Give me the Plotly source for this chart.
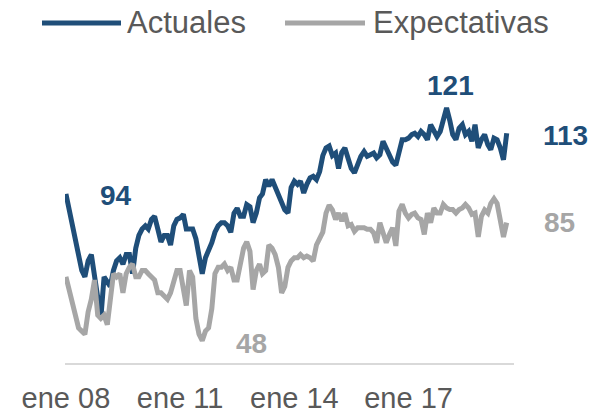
import pandas as pd
import plotly.graph_objects as go

start_month = "2008-01-01"

actuales = [
    94, 89, 84, 78, 74, 70, 68, 73, 75, 68, 60, 55,
    68, 66, 65, 70, 73, 74, 72, 75, 75, 69, 77, 81,
    83, 84, 83, 86, 87, 83, 79, 81, 81, 78, 84, 86,
    86.5, 87.6, 83, 83, 83, 80, 73.5, 69, 74, 76, 78.7, 82,
    84, 85, 85, 84, 82, 88, 89.5, 87, 87, 90.7, 90, 85,
    88, 92.8, 94, 98.5, 96.4, 98.5, 96, 93.3, 91.2, 89, 88, 96,
    98, 97, 98, 94.3, 97, 99, 99.5, 98.5, 101, 106, 108.4, 109,
    106, 106.8, 102, 107, 108.4, 105.3, 102, 100.6, 103.2, 105.8, 107.3, 105.8,
    106.3, 106.8, 105.3, 106.3, 110.5, 108.4, 105.8, 104, 103, 107.3, 111, 111,
    111.5, 112.6, 113, 112, 113.6, 112.6, 111, 115.7, 113.6, 112, 113.6, 117,
    121, 117, 112.6, 111, 114.6, 115.7, 112.6, 113.6, 110.5, 115.7, 108.4, 111,
    112.6, 109.4, 107.9, 111.5, 111, 108.4, 104.7, 113,
]

expectativas = [
    68, 64, 59, 55, 52, 51, 50, 57, 61, 67, 56, 55,
    56, 53, 60, 69, 68, 69, 63, 69, 71, 72, 68, 68,
    70, 70, 69, 68, 67, 63, 63, 62, 61, 63, 67, 70,
    70, 64, 59, 70, 68, 55, 50, 48, 51, 52, 58, 69,
    71, 71, 72, 70, 71, 67, 67, 72, 77, 79, 76, 64,
    70, 72, 69, 70, 78, 77, 75, 71, 63, 65, 71, 73,
    74, 74, 75, 74, 74.5, 74, 73, 78, 80.5, 82, 88, 90.5,
    89, 86, 88, 85.5, 88, 84, 84.4, 82.3, 83.4, 83.4, 83.4, 82.9,
    82.9, 81.8, 78.7, 85, 81.3, 78.7, 81.3, 83.4, 77.7, 88.6, 90.7, 88,
    86.5, 87.6, 88, 86.5, 86, 81.3, 88, 85, 89.6, 88, 88, 90.7,
    89.6, 89.1, 89.1, 88, 89.1, 89.6, 90.7, 89.6, 87.6, 88, 80.5, 87,
    89, 88, 91, 92.5, 91, 86, 80.5, 85,
]

series_names = ["Actuales", "Expectativas"]
tick_dates = ["2008-01-01", "2011-01-01", "2014-01-01", "2017-01-01"]
tick_labels = ["ene 08", "ene 11", "ene 14", "ene 17"]

BLUE = "#1F4E79"
GRAY = "#A6A6A6"
TEXT = "#595959"
FONT = "Liberation Sans, Arial, sans-serif"

dates = pd.date_range(start_month, periods=len(actuales), freq="MS")

W, H = 598, 412
L, R, T, B = 65, 84, 44, 49
PW, PH = W - L - R, H - T - B


def px(xp):
    return (xp - L) / PW


def py(yp):
    return (H - B - yp) / PH


fig = go.Figure()
fig.add_trace(go.Scatter(x=dates, y=actuales, mode="lines", name=series_names[0],
                         line=dict(color=BLUE, width=5)))
fig.add_trace(go.Scatter(x=dates, y=expectativas, mode="lines", name=series_names[1],
                         line=dict(color=GRAY, width=5)))

# legend drawn manually (long sample lines)
shapes = [
    dict(type="line", xref="paper", yref="paper", x0=px(42), x1=px(121), y0=py(23), y1=py(23),
         line=dict(color=BLUE, width=5)),
    dict(type="line", xref="paper", yref="paper", x0=px(285), x1=px(365), y0=py(23), y1=py(23),
         line=dict(color=GRAY, width=5)),
]
annotations = [
    dict(text=series_names[0], xref="paper", yref="paper", x=px(125), y=py(23),
         xanchor="left", yanchor="middle", showarrow=False,
         font=dict(family=FONT, size=31, color=TEXT)),
    dict(text=series_names[1], xref="paper", yref="paper", x=px(371), y=py(23),
         xanchor="left", yanchor="middle", showarrow=False,
         font=dict(family=FONT, size=31, color=TEXT)),
]

labels = [
    ("94", 116, 195, BLUE),
    ("121", 450, 85, BLUE),
    ("113", 565, 135, BLUE),
    ("85", 559, 223, GRAY),
    ("48", 251, 343, GRAY),
]
for txt, xx, yy, col in labels:
    annotations.append(dict(text="<b>%s</b>" % txt, xref="paper", yref="paper",
                            x=px(xx), y=py(yy), xanchor="center", yanchor="middle",
                            showarrow=False, font=dict(family=FONT, size=28, color=col)))

fig.update_layout(
    width=W, height=H,
    margin=dict(l=L, r=R, t=T, b=B, pad=0),
    paper_bgcolor="white", plot_bgcolor="white",
    showlegend=False,
    shapes=shapes, annotations=annotations,
    xaxis=dict(
        type="date",
        range=["2007-12-23", "2019-10-10"],
        tickvals=tick_dates, ticktext=tick_labels,
        showgrid=False, zeroline=False,
        showline=True, linecolor="#D9D9D9", linewidth=2,
        ticks="", ticklabelstandoff=8,
        tickfont=dict(family=FONT, size=29, color=TEXT),
        automargin=False,
    ),
    yaxis=dict(range=[41, 141], visible=False, automargin=False),
)

fig.write_html("out.html")
